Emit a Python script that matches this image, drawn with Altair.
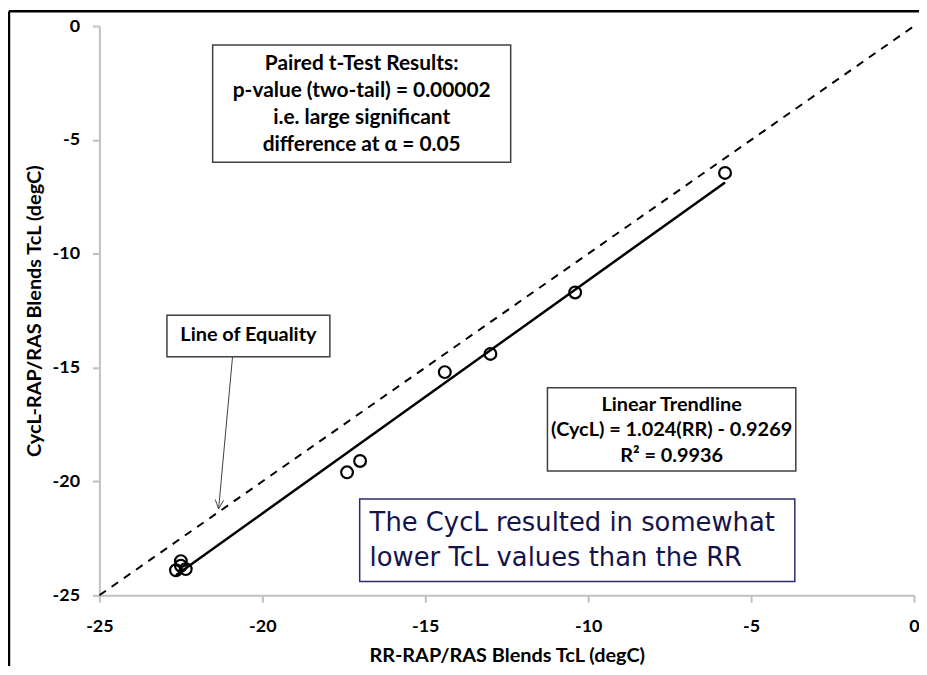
import altair as alt
import pandas as pd

# Data
rr_x = [-5.8, -10.4, -13.0, -14.4, -17.0, -17.4, -22.5, -22.5, -22.65, -22.35]
cycl_y = [-6.45, -11.7, -14.4, -15.2, -19.1, -19.6, -23.5, -23.7, -23.9, -23.85]
eq_x = [-25, 0]
trend_slope = 1.024
trend_intercept = -0.9269
ticks = [-25, -20, -15, -10, -5, 0]

pts = pd.DataFrame({"rr": rr_x, "cycl": cycl_y})
eq = pd.DataFrame({"rr": eq_x, "cycl": eq_x})
tx = [min(rr_x), max(rr_x)]
trend = pd.DataFrame({"rr": tx, "cycl": [trend_slope * v + trend_intercept for v in tx]})
one = pd.DataFrame({"k": [0]})

FONT = "Lato"
xs = alt.Scale(domain=[-25, 0], nice=False)
ys = alt.Scale(domain=[-25, 0], nice=False)

common = dict(values=ticks, grid=False, labelExpr="datum.value + ''",
              labelFont=FONT, labelFontSize=18, labelFontWeight="bold", labelColor="#000",
              titleFont=FONT, titleFontSize=20, titleFontWeight="bold", titleColor="#000",
              domainColor="#c0c0c0", domainWidth=2, tickColor="#c0c0c0", tickWidth=2,
              tickSize=7, labelFlush=False)
xax = alt.Axis(title="RR-RAP/RAS Blends TcL (degC)", labelPadding=15, titlePadding=11, **common)
yax = alt.Axis(title="CycL-RAP/RAS Blends TcL (degC)", labelPadding=13, titlePadding=8, **common)

equality = alt.Chart(eq).mark_line(color="#000", strokeWidth=2, strokeDash=[8, 7]).encode(
    x=alt.X("rr:Q", scale=xs, axis=xax),
    y=alt.Y("cycl:Q", scale=ys, axis=yax),
)
trendline = alt.Chart(trend).mark_line(color="#000", strokeWidth=2.5).encode(
    x=alt.X("rr:Q", scale=xs), y=alt.Y("cycl:Q", scale=ys))
points = alt.Chart(pts).mark_point(filled=False, color="#000", strokeWidth=2.2, size=140, opacity=1).encode(
    x=alt.X("rr:Q", scale=xs), y=alt.Y("cycl:Q", scale=ys))


def box(x1, y1, x2, y2, stroke="#404040", width=1.5):
    return alt.Chart(one).mark_rect(fill="white", stroke=stroke, strokeWidth=width).encode(
        x=alt.value(x1), x2=alt.value(x2), y=alt.value(y1), y2=alt.value(y2))


def txt(x, y, lines, size=20, weight="bold", color="#000", align="center", font=FONT, lh=27):
    return alt.Chart(one).mark_text(text=lines, fontSize=size, fontWeight=weight, color=color,
                                    align=align, baseline="middle", font=font, lineHeight=lh).encode(
        x=alt.value(x), y=alt.value(y))


def rule(x1, y1, x2, y2, color="#404040", w=1):
    return alt.Chart(one).mark_rule(color=color, strokeWidth=w).encode(
        x=alt.value(x1), x2=alt.value(x2), y=alt.value(y1), y2=alt.value(y2))


frame = rule(-91, -15, -91, 670, color="#000", w=2.5) + rule(-91, -15, 830, -15, color="#000", w=2.5)

paired_box = box(114, 19, 414, 137)
paired_txt = txt(264, 38, ["Paired t-Test Results:", "p-value (two-tail) = 0.00002",
                           "i.e. large significant", "difference at \u03b1 = 0.05"], size=21, lh=27.3)

eq_box = box(68, 291, 232, 333)
eq_txt = txt(150, 311, ["Line of Equality"])
arrow = rule(134, 333, 120, 486) + rule(120, 486, 125, 477.4) + rule(120, 486, 116.6, 476.6)

tr_box = box(451, 364, 701, 448)
tr_txt = txt(576, 381, ["Linear Trendline", "(CycL) = 1.024(RR) - 0.9269", "R\u00b2 = 0.9936"], lh=26)

navy_box = box(262, 476, 700, 559, stroke="#2b2b6b", width=1.5)
navy_txt = txt(272, 500, ["The CycL resulted in somewhat", "lower TcL values than the RR"],
               size=26, weight="normal", color="#14144a", align="left", font="DejaVu Sans", lh=36)

chart = alt.layer(
    equality, trendline, points,
    paired_box, paired_txt, eq_box, eq_txt, arrow, tr_box, tr_txt, navy_box, navy_txt, frame,
).properties(
    width=820, height=573,
    autosize=alt.AutoSizeParams(type="none"),
    padding={"left": 92, "top": 16, "right": 5, "bottom": 69},
    background="white",
).configure_view(stroke=None)

chart.save("out.html", embed_options={"renderer": "svg", "actions": False})
